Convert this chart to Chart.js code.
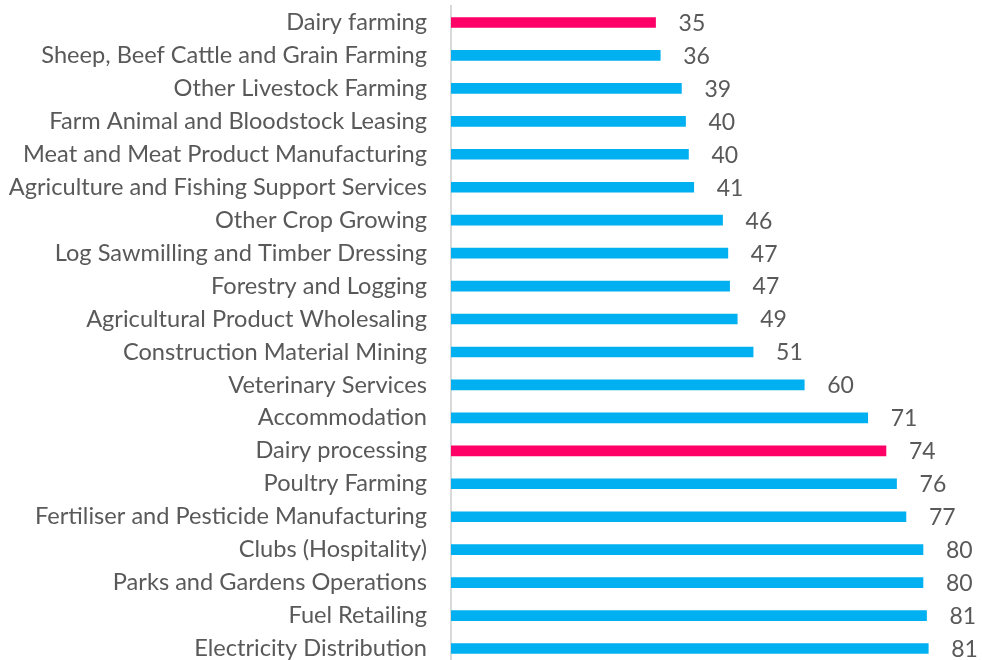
<!DOCTYPE html>
<html><head><meta charset="utf-8">
<script src="https://cdn.jsdelivr.net/npm/chart.js@4"></script>
<style>html,body{margin:0;padding:0;overflow:hidden;background:#fff}#wrap{width:982px;height:665px;position:relative}</style>
</head><body><div id="wrap"><canvas id="c"></canvas></div>
<script>
const categories = [
  'Dairy farming',
  'Sheep, Beef Cattle and Grain Farming',
  'Other Livestock Farming',
  'Farm Animal and Bloodstock Leasing',
  'Meat and Meat Product Manufacturing',
  'Agriculture and Fishing Support Services',
  'Other Crop Growing',
  'Log Sawmilling and Timber Dressing',
  'Forestry and Logging',
  'Agricultural Product Wholesaling',
  'Construction Material Mining',
  'Veterinary Services',
  'Accommodation',
  'Dairy processing',
  'Poultry Farming',
  'Fertiliser and Pesticide Manufacturing',
  'Clubs (Hospitality)',
  'Parks and Gardens Operations',
  'Fuel Retailing',
  'Electricity Distribution'
];
const values = [34.8, 35.6, 39.2, 39.9, 40.4, 41.3, 46.2, 47.1, 47.4, 48.7, 51.4, 60.1, 70.9, 74.0, 75.8, 77.4, 80.3, 80.3, 80.9, 81.2];
const highlighted = ['Dairy farming', 'Dairy processing'];
const BLUE = '#00B0F0', PINK = '#FF0066', TEXT = '#595959';
const FONT = 'Lato';

const valueLabels = {
  id: 'valueLabels',
  afterDatasetsDraw(chart) {
    const ctx = chart.ctx;
    const meta = chart.getDatasetMeta(0);
    ctx.save();
    ctx.font = '23px ' + FONT;
    ctx.fillStyle = TEXT;
    ctx.textAlign = 'left';
    ctx.textBaseline = 'middle';
    meta.data.forEach((bar, i) => {
      ctx.fillText(String(Math.round(values[i])), bar.x + 23, bar.y + 1);
    });
    ctx.restore();
  }
};

new Chart(document.getElementById('c'), {
  type: 'bar',
  data: {
    labels: categories,
    datasets: [{
      data: values,
      backgroundColor: categories.map(c => highlighted.includes(c) ? PINK : BLUE),
      barThickness: 10,
      borderWidth: 0
    }]
  },
  options: {
    indexAxis: 'y',
    responsive: true,
    maintainAspectRatio: false,
    animation: false,
    layout: { padding: { top: 6, right: 2, bottom: 0, left: 0 } },
    plugins: { legend: { display: false }, tooltip: { enabled: false } },
    scales: {
      x: { min: 0, max: 90, display: false },
      y: {
        afterFit(scale) { scale.width = 451; scale.paddingTop = 0; scale.paddingBottom = 0; },
        grid: { display: false, drawTicks: false },
        border: { display: true, color: '#D9D9D9', width: 2 },
        ticks: { color: TEXT, font: { family: FONT, size: 23.6 }, padding: 24, autoSkip: false }
      }
    }
  },
  plugins: [valueLabels]
});
</script></body></html>
